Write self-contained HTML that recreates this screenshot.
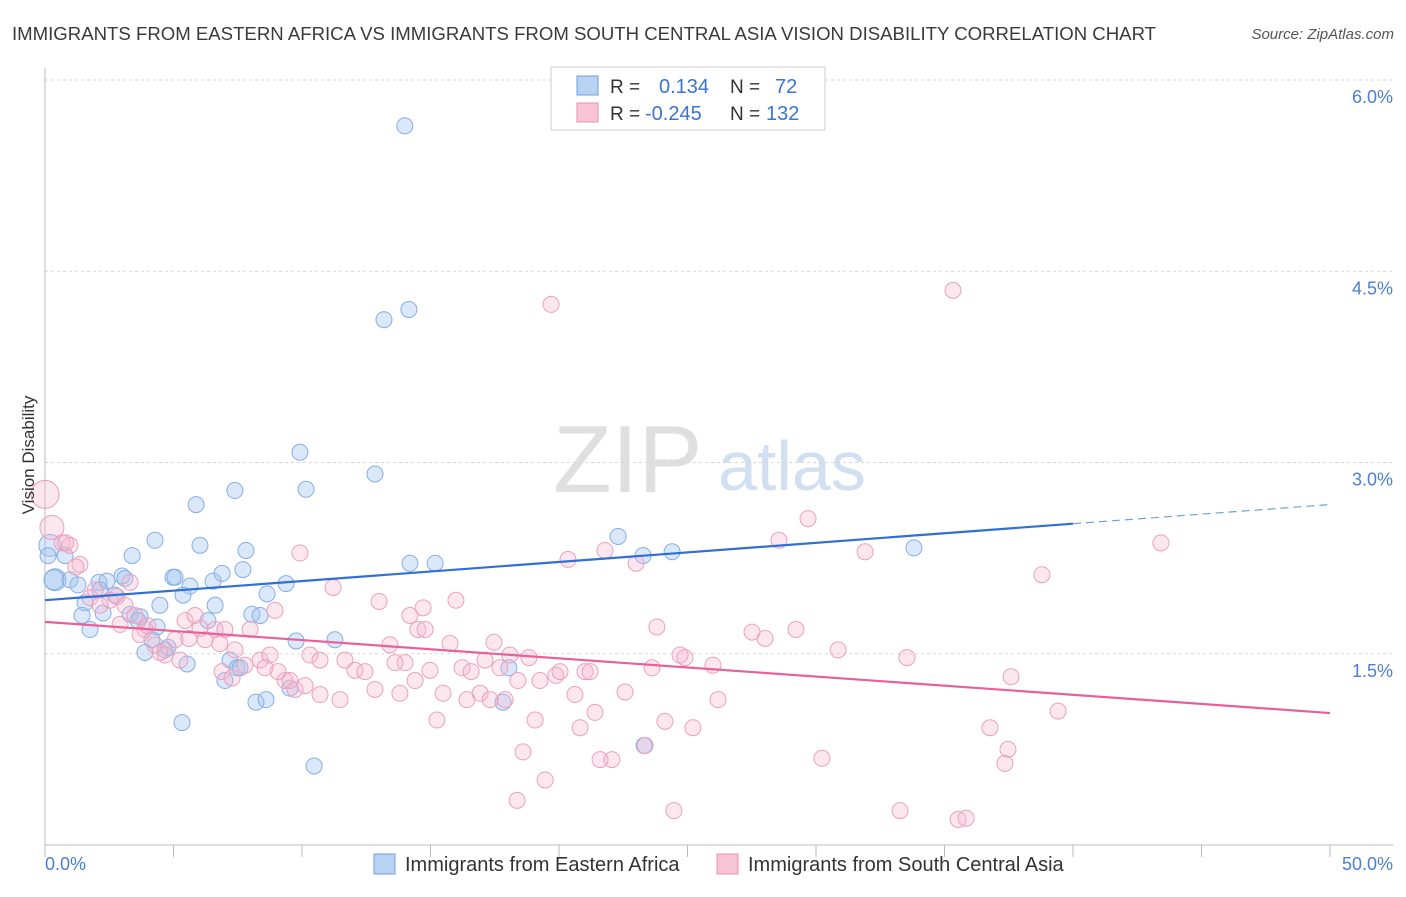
<!DOCTYPE html>
<html><head><meta charset="utf-8">
<style>
body{margin:0;background:#fff;font-family:"Liberation Sans",sans-serif;}
svg text{font-family:"Liberation Sans",sans-serif;}
</style></head>
<body>
<svg id="chart" width="1406" height="892" viewBox="0 0 1406 892" xmlns="http://www.w3.org/2000/svg">
<text x="12" y="40" font-size="18.6" fill="#3a3a3a">IMMIGRANTS FROM EASTERN AFRICA VS IMMIGRANTS FROM SOUTH CENTRAL ASIA VISION DISABILITY CORRELATION CHART</text>
<text x="1394" y="39" font-size="15" fill="#555" font-style="italic" text-anchor="end">Source: ZipAtlas.com</text>
<g>
<text x="553" y="492" font-size="96" fill="#d8d8d8" font-family="Liberation Serif" opacity="0.8">ZIP</text>
<text x="718" y="490" font-size="70" fill="#c5d8f0" opacity="0.8">atlas</text>
</g>
<g id="grid"></g>
<g id="axes"></g>
<g id="points"></g>
<g id="lines"></g>
<text transform="translate(34,455) rotate(-90)" font-size="17" fill="#333" text-anchor="middle">Vision Disability</text>
<text x="45" y="870" font-size="18" fill="#4a7fd6">0.0%</text>
<text x="1393" y="870" font-size="18" fill="#4a7fd6" text-anchor="end">50.0%</text>
<g>
<rect x="551" y="67" width="274" height="63" fill="#fff" stroke="#ccc"/>
<rect x="577" y="76" width="21" height="19" fill="#b8d2f4" stroke="#6f9fe0"/>
<rect x="577" y="103" width="21" height="19" fill="#f8c4d5" stroke="#e890ae"/>
<text x="610" y="93" font-size="19" fill="#333">R =</text>
<text x="659" y="93" font-size="20" fill="#3a74d4">0.134</text>
<text x="730" y="93" font-size="19" fill="#333">N =</text>
<text x="775" y="93" font-size="20" fill="#3a74d4">72</text>
<text x="610" y="120" font-size="19" fill="#333">R =</text>
<text x="645" y="120" font-size="20" fill="#3a74d4">-0.245</text>
<text x="730" y="120" font-size="19" fill="#333">N =</text>
<text x="766" y="120" font-size="20" fill="#3a74d4">132</text>
</g>
<g>
<rect x="374" y="854" width="21" height="20" fill="#b8d2f4" stroke="#6f9fe0"/>
<text x="405" y="871" font-size="20" fill="#333">Immigrants from Eastern Africa</text>
<rect x="717" y="854" width="21" height="20" fill="#f8c4d5" stroke="#e890ae"/>
<text x="748" y="871" font-size="20" fill="#333">Immigrants from South Central Asia</text>
</g>
</svg>
<script>
const yTicks=[1.5,3.0,4.5,6.0];
const yTickLabels=["1.5%","3.0%","4.5%","6.0%"];
const xTicks=[0,5,10,15,20,25,30,35,40,45,50];
const blueX=[14.0,13.19,14.16,9.92,10.16,12.84,7.39,5.88,4.28,6.03,7.82,3.39,0.78,0.19,0.39,0.97,1.28,2.10,2.41,3.00,3.11,4.98,5.06,6.54,6.89,7.70,9.38,5.64,5.37,8.64,4.47,2.72,1.56,2.14,1.44,1.75,2.26,3.70,3.31,3.62,4.36,3.89,4.67,5.53,6.34,6.62,8.05,8.37,9.77,11.28,7.20,7.47,8.21,8.60,9.53,5.33,10.47,14.20,15.18,22.30,23.27,24.40,33.81,23.31,17.82,18.05,0.12,7.00,7.59,4.79,4.16,0.35];
const blueY=[5.64,4.12,4.20,3.08,2.79,2.91,2.78,2.67,2.39,2.35,2.31,2.27,2.27,2.35,2.08,2.08,2.04,2.06,2.07,2.11,2.09,2.10,2.10,2.07,2.13,2.16,2.05,2.03,1.96,1.97,1.88,1.96,1.90,2.00,1.80,1.69,1.82,1.79,1.81,1.76,1.71,1.51,1.53,1.42,1.76,1.88,1.81,1.80,1.60,1.61,1.45,1.39,1.12,1.14,1.23,0.96,0.62,2.21,2.21,2.42,2.27,2.30,2.33,0.78,1.12,1.39,2.27,1.29,1.39,1.55,1.61,2.08];
const blueSize=[8,8,8,8,8,8,8,8,8,8,8,8,8,11,11,8,8,8,8,8,8,8,8,8,8,8,8,8,8,8,8,8,8,8,8,8,8,8,8,8,8,8,8,8,8,8,8,8,8,8,8,8,8,8,8,8,8,8,8,8,8,8,8,8,8,8,8,8,8,8,8,10];
const pinkX=[0.0,0.27,0.66,0.97,1.36,1.95,2.53,3.31,3.11,3.50,2.92,3.89,4.28,4.67,5.06,5.45,5.84,6.23,6.62,7.00,7.39,7.98,8.37,8.75,8.95,9.34,9.73,9.92,10.31,10.70,11.21,11.67,12.06,12.45,12.84,13.0,13.42,13.81,14.01,14.20,14.51,14.71,14.98,15.25,15.49,15.76,15.99,16.23,16.42,16.58,16.93,17.12,17.32,17.47,17.70,17.90,18.09,18.40,18.60,18.83,19.07,19.26,19.46,19.69,19.88,20.04,20.35,20.62,20.82,21.01,21.21,21.40,21.60,21.79,22.06,22.57,23.0,23.35,23.62,23.81,24.12,24.47,24.71,24.90,25.21,25.99,26.19,27.51,28.02,28.56,29.22,29.69,30.23,30.86,31.91,33.27,33.54,35.33,35.53,35.84,36.77,37.35,37.47,37.59,38.79,39.42,43.42,18.37,1.75,2.14,3.70,4.47,5.25,6.03,6.89,7.28,7.78,8.56,9.07,9.53,10.12,10.70,11.48,13.62,14.40,14.79,0.8,1.2,2.8,4.0,5.6,6.8];
const pinkY=[2.75,2.49,2.37,2.35,2.20,2.00,1.92,2.06,1.88,1.80,1.73,1.69,1.57,1.49,1.61,1.76,1.80,1.61,1.69,1.69,1.53,1.69,1.45,1.49,1.84,1.29,1.22,2.29,1.49,1.45,2.02,1.45,1.37,1.36,1.22,1.91,1.57,1.19,1.43,1.80,1.69,1.86,1.37,0.98,1.19,1.58,1.92,1.39,1.14,1.36,1.19,1.45,1.14,1.59,1.39,1.14,1.49,1.29,0.73,1.47,0.98,1.29,0.51,4.24,1.33,1.36,2.24,1.18,0.92,1.36,1.36,1.04,0.67,2.31,0.67,1.20,2.21,0.78,1.39,1.71,0.97,0.27,1.49,1.47,0.92,1.41,1.14,1.67,1.62,2.39,1.69,2.56,0.68,1.53,2.30,0.27,1.47,4.35,0.20,0.21,0.92,0.64,0.75,1.32,2.12,1.05,2.37,0.35,1.94,1.88,1.65,1.51,1.45,1.70,1.36,1.31,1.41,1.39,1.36,1.29,1.25,1.18,1.14,1.43,1.29,1.69,2.37,2.18,1.95,1.72,1.62,1.58];
const blueTrend=[[0,1.92],[40,2.52]];
const blueTrendExt=[[40,2.52],[50,2.67]];
const pinkTrend=[[0,1.75],[50,1.035]];

const NS="http://www.w3.org/2000/svg";
const X0=45,X1=1330,YB=845,PXPER=127.5;
function xs(v){return X0+(X1-X0)*v/50;}
function ys(v){return YB-v*PXPER;}
function mk(tag,attrs,parent){const e=document.createElementNS(NS,tag);for(const k in attrs)e.setAttribute(k,attrs[k]);document.getElementById(parent).appendChild(e);return e;}

yTicks.forEach((t,i)=>{
  const l=mk('line',{x1:45,x2:1393,y1:ys(t),y2:ys(t),stroke:'#d8d8d8','stroke-dasharray':'3,3'},'grid');
  
  
  const tx=mk('text',{x:1393,y:ys(t)+23,'font-size':18,fill:'#4a7fd6','text-anchor':'end'},'grid');
  tx.textContent=yTickLabels[i];
  
  
});
const ya=mk('line',{x1:45,x2:45,y1:68,y2:YB,stroke:'#bbb'},'axes');


const xa=mk('line',{x1:45,x2:1393,y1:YB,y2:YB,stroke:'#bbb'},'axes');


xTicks.forEach(t=>{
  const l=mk('line',{x1:xs(t),x2:xs(t),y1:YB,y2:YB+12,stroke:'#bbb'},'axes');
  
  
});
blueX.forEach((v,i)=>{
  const c=mk('circle',{cx:xs(v),cy:ys(blueY[i]),r:blueSize[i],fill:'rgba(160,195,240,0.38)',stroke:'#85aee6','stroke-width':1},'points');
  
  
});
pinkX.forEach((v,i)=>{
  const r=i===0?14:(i===1?12:8);
  const c=mk('circle',{cx:xs(v),cy:ys(pinkY[i]),r:r,fill:'rgba(245,180,205,0.32)',stroke:'#eba0bc','stroke-width':1},'points');
  
  
});
const bl=mk('line',{x1:xs(blueTrend[0][0]),y1:ys(blueTrend[0][1]),x2:xs(blueTrend[1][0]),y2:ys(blueTrend[1][1]),stroke:'#2f6fd6','stroke-width':2.2},'lines');


const be=mk('line',{x1:xs(blueTrendExt[0][0]),y1:ys(blueTrendExt[0][1]),x2:xs(blueTrendExt[1][0]),y2:ys(blueTrendExt[1][1]),stroke:'#6f9fe0','stroke-width':1.2,'stroke-dasharray':'8,5'},'lines');


const pl=mk('line',{x1:xs(pinkTrend[0][0]),y1:ys(pinkTrend[0][1]),x2:xs(pinkTrend[1][0]),y2:ys(pinkTrend[1][1]),stroke:'#e8609a','stroke-width':2.2},'lines');


</script>
</body></html>
